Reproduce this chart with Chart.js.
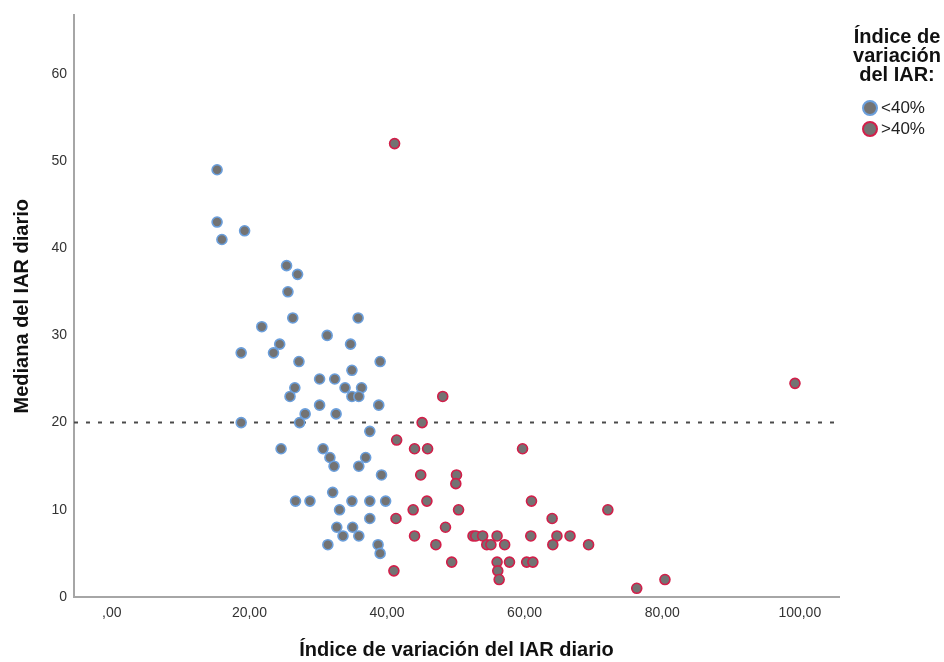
<!DOCTYPE html>
<html lang="es">
<head>
<meta charset="utf-8">
<title>Mediana del IAR diario</title>
<script src="https://cdn.jsdelivr.net/npm/chart.js@4"></script>
<style>
  html, body {
    margin: 0;
    padding: 0;
    background: #ffffff;
  }

  .chart-wrap {
    position: relative;
    width: 944px;
    height: 662px;
    font-family: "Liberation Sans", Arial, sans-serif;
  }

  #iarChart {
    display: block;
  }

  .legend-title {
    position: absolute;
    left: 840px;
    top: 27px;
    width: 114px;
    text-align: center;
    font-weight: 700;
    font-size: 20px;
    line-height: 19px;
    color: #111;
  }

  .legend-item {
    position: absolute;
    left: 862px;
    height: 18px;
    display: flex;
    align-items: center;
    font-size: 17px;
    color: #222;
  }

  .legend-dot {
    width: 12px;
    height: 12px;
    border-radius: 50%;
    background: #737373;
    border: 2px solid;
    margin-right: 3px;
  }
</style>
</head>
<body>
<div class="chart-wrap">
  <canvas id="iarChart" width="944" height="662"></canvas>
  <div class="legend-title">Índice de<br>variación<br>del IAR:</div>
  <div id="legendItems"></div>
</div>

<script>
// índice de variación (x) y mediana (y) del IAR diario
const lowX = [15.3, 15.3, 16.0, 19.3, 25.4, 27.0, 25.6, 21.8, 26.3, 31.3, 35.8, 18.8, 23.5, 24.4,
  27.2, 39.0, 34.7, 30.2, 32.4, 33.9, 34.9, 36.3, 34.9, 35.9, 25.9, 26.6, 30.2, 38.8, 28.1, 32.6,
  18.8, 27.3, 37.5, 24.6, 30.7, 31.7, 36.9, 32.3, 35.9, 39.2, 32.1, 26.7, 28.8, 34.9, 37.5, 39.8,
  33.1, 37.5, 32.7, 35.0, 33.6, 35.9, 31.4, 38.7, 39.0];
const lowY = [49, 43, 41, 42, 38, 37, 35, 31, 32, 30, 32, 28, 28, 29,
  27, 27, 29, 25, 25, 24, 26, 24, 23, 23, 23, 24, 22, 22, 21, 21,
  20, 20, 19, 17, 17, 16, 16, 15, 15, 14, 12, 11, 11, 11, 11, 11,
  10, 9, 8, 8, 7, 7, 6, 6, 5];

const highX = [41.1, 48.1, 45.1, 41.4, 44.0, 45.9, 59.7, 44.9, 50.1, 50.0, 45.8, 61.0, 43.8, 50.4,
  72.1, 41.3, 64.0, 48.5, 44.0, 52.5, 52.9, 53.9, 56.0, 60.9, 64.7, 66.6, 47.1, 54.5, 55.1, 57.1,
  64.1, 69.3, 49.4, 56.0, 57.8, 60.3, 61.2, 56.1, 56.3, 41.0, 76.3, 80.4, 99.3];
const highY = [52, 23, 20, 18, 17, 17, 17, 14, 14, 13, 11, 11, 10, 10,
  10, 9, 9, 8, 7, 7, 7, 7, 7, 7, 7, 7, 6, 6, 6, 6,
  6, 6, 4, 4, 4, 4, 4, 3, 2, 3, 1, 2, 24.5];

const xTicks = [0, 20, 40, 60, 80, 100];
const xTickLabels = [',00', '20,00', '40,00', '60,00', '80,00', '100,00'];
const yTicks = [0, 10, 20, 30, 40, 50, 60];
const xRange = [-5.5, 105.7];
const yRange = [0, 66.7];
const refLineY = 20;

const groups = [
  { label: '<40%', border: '#6b9fdc' },
  { label: '>40%', border: '#d21f4a' },
];

const FONT = '"Liberation Sans", Arial, sans-serif';
Chart.defaults.font.family = FONT;

function toPoints(xs, ys) {
  return xs.map((x, i) => ({ x, y: ys[i] }));
}

function scatterSet(group, xs, ys) {
  return {
    type: 'scatter',
    label: group.label,
    data: toPoints(xs, ys),
    backgroundColor: '#737373',
    borderColor: group.border,
    borderWidth: 1.6,
    pointRadius: 5,
    pointHoverRadius: 5,
    order: 1,
  };
}

function renderLegend() {
  const box = document.getElementById('legendItems');
  box.innerHTML = groups.map((g, i) => `
    <div class="legend-item" style="top:${99 + i * 21}px">
      <span class="legend-dot" style="border-color:${g.border}"></span>${g.label}
    </div>
  `).join('');
}

const chart = new Chart(document.getElementById('iarChart'), {
  data: {
    datasets: [
      {
        type: 'line',
        label: 'ref',
        data: [{ x: xRange[0], y: refLineY }, { x: xRange[1], y: refLineY }],
        borderColor: '#4a4a4a',
        borderWidth: 2,
        borderDash: [4, 8],
        pointRadius: 0,
        fill: false,
        order: 3,
      },
      scatterSet(groups[0], lowX, lowY),
      scatterSet(groups[1], highX, highY),
    ],
  },
  options: {
    responsive: false,
    animation: false,
    layout: {
      padding: { top: 13, right: 105, left: 0, bottom: 0 },
    },
    plugins: {
      legend: { display: false },
      tooltip: { enabled: false },
    },
    scales: {
      x: {
        type: 'linear',
        min: xRange[0],
        max: xRange[1],
        afterFit: (scale) => { scale.height = 65; },
        afterBuildTicks: (scale) => { scale.ticks = xTicks.map((v) => ({ value: v })); },
        grid: { display: false, drawTicks: false },
        border: { display: true, color: '#a6a6a6', width: 2 },
        ticks: {
          padding: 8,
          color: '#333',
          font: { size: 14 },
          callback: (value) => xTickLabels[xTicks.indexOf(value)],
        },
        title: {
          display: true,
          text: 'Índice de variación del IAR diario',
          color: '#111',
          font: { size: 20, weight: 'bold' },
          padding: { top: 0, bottom: 0 },
        },
      },
      y: {
        type: 'linear',
        min: yRange[0],
        max: yRange[1],
        afterFit: (scale) => { scale.width = 74; },
        afterBuildTicks: (scale) => { scale.ticks = yTicks.map((v) => ({ value: v })); },
        grid: { display: false, drawTicks: false },
        border: { display: true, color: '#a6a6a6', width: 2 },
        ticks: {
          padding: 7,
          color: '#333',
          font: { size: 14 },
        },
        title: {
          display: true,
          text: 'Mediana del IAR diario',
          color: '#111',
          font: { size: 20, weight: 'bold' },
          padding: { top: 10, bottom: 0 },
        },
      },
    },
  },
});

renderLegend();
</script>
</body>
</html>
